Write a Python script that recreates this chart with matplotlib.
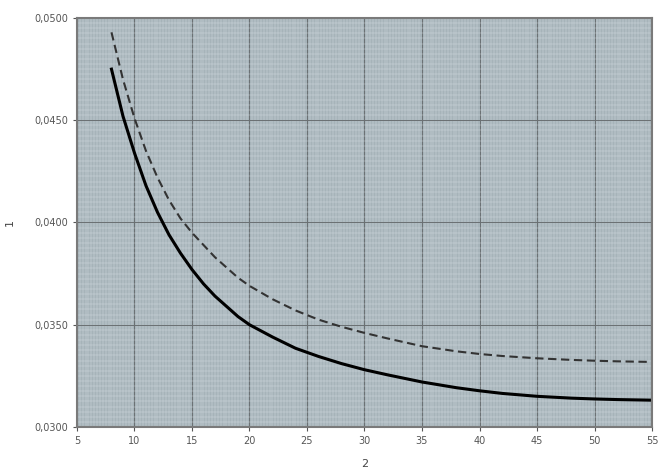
import matplotlib.pyplot as plt
from matplotlib.ticker import MultipleLocator, FuncFormatter

# values
x_val = [8, 9, 10, 11, 12, 13, 14, 15, 16, 17, 18, 19, 20, 22, 24, 26, 28, 30,
         32, 35, 38, 40, 42, 45, 48, 50, 52, 55]
y_solid = [0.0475, 0.0452, 0.0434, 0.0418, 0.0405, 0.0394, 0.0385, 0.0377, 0.0370, 0.0364,
           0.0359, 0.0354, 0.0350, 0.0344, 0.03385, 0.03345, 0.0331, 0.0328,
           0.03255, 0.0322, 0.03192, 0.03177, 0.03164, 0.0315, 0.03141, 0.03137, 0.03134, 0.03131]
y_dash = [0.0493, 0.0470, 0.0451, 0.0435, 0.0422, 0.0411, 0.0402, 0.0395, 0.0389, 0.0383,
          0.0378, 0.0373, 0.0369, 0.03625, 0.0357, 0.03525, 0.0349, 0.0346,
          0.03433, 0.03395, 0.0337, 0.03357, 0.03347, 0.03336, 0.03328, 0.03324, 0.03321, 0.03318]

fig = plt.figure(figsize=(6.59, 4.75), dpi=100)
ax = fig.add_axes([0.1168, 0.1011, 0.8726, 0.861])
ax.set_facecolor('#a6b3b9')

ax.plot(x_val, y_dash, color='#333333', lw=1.5, dashes=(4, 2.2))
ax.plot(x_val, y_solid, color='black', lw=2.2, solid_joinstyle='round')

ax.set_xlim(5, 55)
ax.set_ylim(0.030, 0.050)
ax.xaxis.set_major_locator(MultipleLocator(5))
ax.yaxis.set_major_locator(MultipleLocator(0.005))
ax.xaxis.set_minor_locator(MultipleLocator(0.25))
ax.yaxis.set_minor_locator(MultipleLocator(0.00025))
ax.yaxis.set_major_formatter(FuncFormatter(lambda v, p: f"{v:.4f}".replace('.', ',')))

ax.grid(which='minor', color='#dce4e7', lw=0.35, alpha=0.8)
ax.grid(which='major', color='#6a6f72', lw=0.7)
ax.set_axisbelow(True)
ax.tick_params(which='minor', length=0)
ax.tick_params(which='major', length=3, labelsize=7, colors='#555555')

for s in ax.spines.values():
    s.set_color('#7a7a7a')
    s.set_linewidth(1.5)

ax.set_xlabel("2", fontsize=8, color='#444444', labelpad=9)
ax.set_ylabel("1", fontsize=8, color='#444444', labelpad=14)

fig.savefig("out.png", dpi=100)
